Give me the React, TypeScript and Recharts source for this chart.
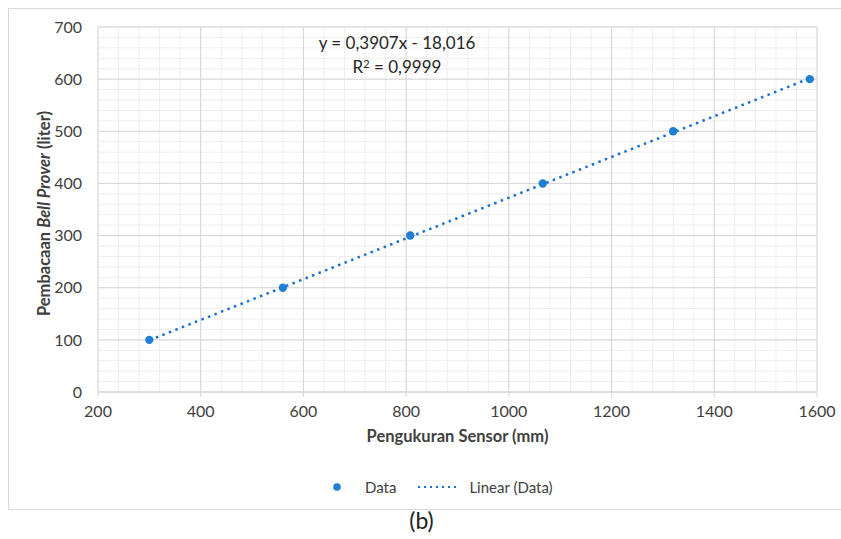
import React from "react";
import {
  ScatterChart,
  Scatter,
  XAxis,
  YAxis,
  CartesianGrid,
  Label,
} from "recharts";

const FONT = "Lato, 'Open Sans', sans-serif";
const DOT = "#1f80d2";
const TREND = "#1a6fd0";
const MAJOR = "#d6d6d6";
const MINOR = "#eeeeee";
const TEXT = "#404040";

// measured points (sensor mm vs bell prover liter)
const sensorMm = [300, 560, 808, 1066, 1320, 1586];
const proverLiter = [100, 200, 300, 400, 500, 600];

// trendline endpoints
const trendMm = [300, 1586];
const trendLiter = [99.2, 601.6];

const xTicks = [200, 400, 600, 800, 1000, 1200, 1400, 1600];
const yTicks = [0, 100, 200, 300, 400, 500, 600, 700];
const xMinor = [
  200, 240, 280, 320, 360, 400, 440, 480, 520, 560, 600, 640, 680, 720, 760, 800, 840, 880,
  920, 960, 1000, 1040, 1080, 1120, 1160, 1200, 1240, 1280, 1320, 1360, 1400, 1440, 1480,
  1520, 1560, 1600,
];
const yMinor = [
  0, 20, 40, 60, 80, 100, 120, 140, 160, 180, 200, 220, 240, 260, 280, 300, 320, 340, 360,
  380, 400, 420, 440, 460, 480, 500, 520, 540, 560, 580, 600, 620, 640, 660, 680, 700,
];

const points = sensorMm.map((x, i) => ({ x, y: proverLiter[i] }));
const trend = trendMm.map((x, i) => ({ x, y: trendLiter[i] }));

function scaleOf(axis: any) {
  if (!axis) return null;
  if (typeof axis.scale === "function") return axis.scale;
  if (axis.scale && typeof axis.scale.map === "function") return (v: number) => axis.scale.map(v);
  return null;
}

function YTitle({ viewBox }: any) {
  const cx = viewBox.x + 44;
  const cy = viewBox.y + viewBox.height / 2 + 4;
  return (
    <text
      x={cx}
      y={cy}
      transform={`rotate(-90 ${cx} ${cy})`}
      textAnchor="middle"
      dominantBaseline="central"
      fontFamily={FONT}
      fontSize={16.5}
      fontWeight={700}
      fill={TEXT}
    >
      <tspan>Pembacaan </tspan>
      <tspan fontStyle="italic">Bell Prover</tspan>
      <tspan> (liter)</tspan>
    </text>
  );
}

export default function App() {
  return (
    <div style={{ position: "absolute", left: 0, top: 0, width: 841, height: 539, overflow: "hidden", background: "#fff", fontFamily: FONT }}>
      <div style={{ position: "absolute", left: 8, top: 8, width: 860, height: 500, border: "1px solid #d9d9d9" }} />
      <div style={{ position: "absolute", left: 0, top: 0 }}>
        <ScatterChart width={841} height={539} margin={{ top: 27, right: 24, bottom: 87, left: 0 }}>
          <CartesianGrid
            stroke={MINOR}
            verticalCoordinatesGenerator={({ xAxis }: any) => {
              const s = scaleOf(xAxis);
              return s ? xMinor.map((v) => s(v)) : [];
            }}
            horizontalCoordinatesGenerator={({ yAxis }: any) => {
              const s = scaleOf(yAxis);
              return s ? yMinor.map((v) => s(v)) : [];
            }}
          />
          <CartesianGrid stroke={MAJOR} />
          <XAxis
            type="number"
            dataKey="x"
            domain={[200, 1600]}
            ticks={xTicks}
            height={60}
            axisLine={{ stroke: MAJOR }}
            tickLine={{ stroke: MAJOR }}
            tickSize={5}
            tickMargin={9}
            tick={{ fill: TEXT, fontSize: 16, fontFamily: FONT }}
          >
            <Label
              value="Pengukuran Sensor (mm)"
              position="insideTop"
              offset={38}
              style={{ fill: TEXT, fontSize: 16.5, fontWeight: 700, fontFamily: FONT }}
            />
          </XAxis>
          <YAxis
            type="number"
            dataKey="y"
            domain={[0, 700]}
            ticks={yTicks}
            width={98}
            axisLine={false}
            tickLine={false}
            tickSize={0}
            tickMargin={16}
            tick={{ fill: TEXT, fontSize: 16, fontFamily: FONT }}
          >
            <Label content={YTitle} />
          </YAxis>
          <Scatter
            data={trend}
            isAnimationActive={false}
            line={{ stroke: TREND, strokeWidth: 2.5, strokeDasharray: "2.5 4.5" }}
            shape={() => <g />}
          />
          <Scatter
            data={points}
            isAnimationActive={false}
            shape={(p: any) => <circle cx={p.cx} cy={p.cy} r={4.2} fill={DOT} />}
          />
        </ScatterChart>
      </div>
      <div style={{ position: "absolute", left: 297, width: 200, top: 31, textAlign: "center", fontSize: 17, lineHeight: "24px", color: "#262626" }}>
        <div>y = 0,3907x - 18,016</div>
        <div>
          R<sup style={{ fontSize: 11, verticalAlign: "5px", lineHeight: 0 }}>2</sup> = 0,9999
        </div>
      </div>
      <div style={{ position: "absolute", top: 477, left: 332, height: 20, display: "flex", alignItems: "center", fontSize: 15, color: TEXT }}>
        <svg width={10} height={10}>
          <circle cx={5} cy={5} r={3.8} fill={DOT} />
        </svg>
        <span style={{ marginLeft: 23 }}>Data</span>
        <svg width={44} height={6} style={{ marginLeft: 21 }}>
          <line x1={1} y1={3} x2={43} y2={3} stroke={TREND} strokeWidth={2} strokeDasharray="2 4" />
        </svg>
        <span style={{ marginLeft: 8 }}>Linear (Data)</span>
      </div>
      <div style={{ position: "absolute", top: 506, left: 1, width: 841, textAlign: "center", fontSize: 23, color: "#222" }}>(b)</div>
    </div>
  );
}
